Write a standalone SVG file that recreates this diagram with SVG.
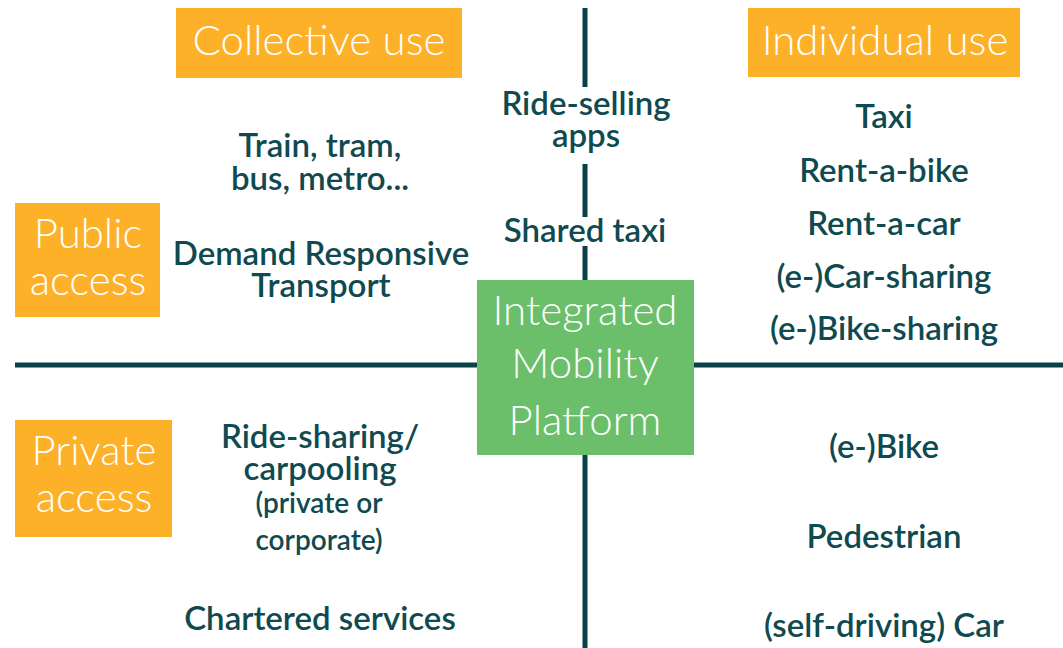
<svg xmlns="http://www.w3.org/2000/svg" width="1063" height="648" viewBox="0 0 1063 648">
<style>
.bg{fill:#ffffff}
.orange{fill:#FDB128}
.green{fill:#6BBF6A}
.line{stroke:#0A4148;stroke-width:5;fill:none}
.lbl{font-family:Lato,"Liberation Sans",sans-serif;font-weight:300;font-size:42px;fill:#ffffff;text-anchor:middle}
.txt{font-family:Lato,"Liberation Sans",sans-serif;font-weight:600;font-size:33px;fill:#0F4A50;text-anchor:middle}
.sm{font-size:28px}
</style>
<rect class="bg" x="0" y="0" width="1063" height="648"/>
<g id="connectors">
<line class="line" x1="15" y1="365" x2="1063" y2="365"/>
<line class="line" x1="585" y1="8" x2="585" y2="87"/>
<line class="line" x1="585" y1="164" x2="585" y2="217"/>
<line class="line" x1="585" y1="246" x2="585" y2="282"/>
<line class="line" x1="585" y1="453" x2="585" y2="648"/>
</g>
<g id="collective-use">
<rect class="orange" x="176" y="8" width="286" height="70"/>
<text class="lbl" x="319" y="55">Collective use</text>
</g>
<g id="individual-use">
<rect class="orange" x="748" y="8" width="272" height="69"/>
<text class="lbl" x="885" y="55">Individual use</text>
</g>
<g id="public-access">
<rect class="orange" x="15" y="203" width="145" height="114"/>
<text class="lbl" x="88" y="248">Public</text>
<text class="lbl" x="88" y="295">access</text>
</g>
<g id="private-access">
<rect class="orange" x="15" y="420" width="157" height="117"/>
<text class="lbl" x="94" y="465">Private</text>
<text class="lbl" x="94" y="512">access</text>
</g>
<g id="platform">
<rect class="green" x="477" y="280" width="217" height="175"/>
<text class="lbl" x="585" y="325">Integrated</text>
<text class="lbl" x="585" y="378">Mobility</text>
<text class="lbl" x="585" y="435">Platform</text>
</g>
<g id="collective-public">
<text class="txt" x="320" y="157">Train, tram,</text>
<text class="txt" x="320" y="190">bus, metro...</text>
<text class="txt" x="321" y="265">Demand Responsive</text>
<text class="txt" x="321" y="297">Transport</text>
</g>
<g id="middle-public">
<text class="txt" x="586" y="115">Ride-selling</text>
<text class="txt" x="586" y="147">apps</text>
<text class="txt" x="585" y="242">Shared taxi</text>
</g>
<g id="individual-public">
<text class="txt" x="884" y="128">Taxi</text>
<text class="txt" x="884" y="182">Rent-a-bike</text>
<text class="txt" x="884" y="235">Rent-a-car</text>
<text class="txt" x="884" y="288">(e-)Car-sharing</text>
<text class="txt" x="884" y="340">(e-)Bike-sharing</text>
</g>
<g id="collective-private">
<text class="txt" x="320" y="448">Ride-sharing/</text>
<text class="txt" x="320" y="480">carpooling</text>
<text class="txt sm" x="319" y="513">(private or</text>
<text class="txt sm" x="319" y="550">corporate)</text>
<text class="txt" x="320" y="630">Chartered services</text>
</g>
<g id="individual-private">
<text class="txt" x="884" y="458">(e-)Bike</text>
<text class="txt" x="884" y="548">Pedestrian</text>
<text class="txt" x="884" y="637">(self-driving) Car</text>
</g>
</svg>
